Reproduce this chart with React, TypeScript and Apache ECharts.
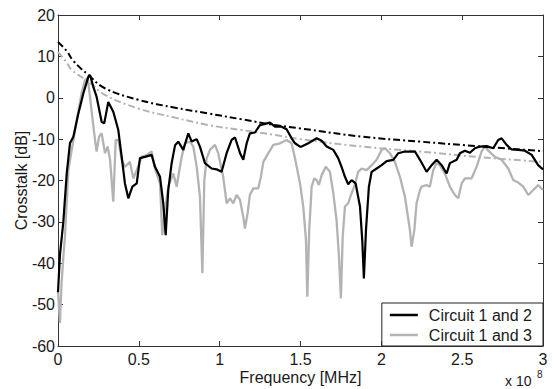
import React, { useEffect, useRef } from "react";
import * as echarts from "echarts";

// Frequency in units of 1e8 Hz (axis shows "x 10^8")
const freq12 = [0.000, 0.012, 0.033, 0.054, 0.074, 0.095, 0.126, 0.157, 0.188, 0.198, 0.218, 0.239, 0.270, 0.286, 0.311, 0.342, 0.373, 0.394, 0.414, 0.435, 0.460, 0.487, 0.507, 0.538, 0.579, 0.600, 0.631, 0.651, 0.666, 0.682, 0.703, 0.724, 0.744, 0.775, 0.806, 0.827, 0.858, 0.878, 0.909, 0.950, 0.981, 1.012, 1.043, 1.074, 1.095, 1.126, 1.146, 1.167, 1.187, 1.218, 1.249, 1.280, 1.311, 1.342, 1.383, 1.414, 1.445, 1.466, 1.497, 1.507, 1.548, 1.600, 1.631, 1.662, 1.703, 1.733, 1.754, 1.775, 1.795, 1.816, 1.841, 1.868, 1.882, 1.892, 1.905, 1.923, 1.940, 1.971, 2.002, 2.033, 2.074, 2.105, 2.146, 2.187, 2.208, 2.239, 2.280, 2.311, 2.342, 2.373, 2.404, 2.424, 2.466, 2.486, 2.517, 2.548, 2.579, 2.610, 2.651, 2.692, 2.723, 2.744, 2.775, 2.806, 2.847, 2.888, 2.930, 2.970, 3.000];
const db12 = [-47, -38, -30, -18.3, -11, -9.4, -3.8, 1.1, 5.1, 5.5, 2.7, 0.2, -5.8, -6.2, -1.0, -3.4, -7.8, -14.3, -20.7, -24.3, -21.5, -20.7, -14.6, -14.3, -13.8, -16.7, -19.1, -25.5, -33.2, -22.3, -15.8, -11.5, -10.6, -12.6, -8.6, -10.6, -10.0, -11.8, -15.8, -17.1, -17.3, -17.9, -13.4, -10.2, -9.6, -13.4, -15.0, -11.0, -8.6, -8.4, -6.6, -6.3, -6.0, -7.0, -7.0, -7.6, -9.8, -11.0, -11.8, -11.8, -11.0, -9.8, -10.4, -11.8, -12.6, -14.6, -16.7, -19.1, -20.9, -19.9, -20.7, -26.3, -34.4, -43.7, -32.0, -21.5, -17.9, -17.1, -16.3, -15.3, -15.0, -13.4, -13.0, -13.0, -13.0, -15.0, -17.9, -16.3, -15.0, -16.3, -18.3, -15.8, -15.0, -13.4, -12.8, -13.3, -12.2, -11.8, -11.7, -12.2, -10.2, -9.8, -11.4, -12.5, -12.6, -12.8, -13.8, -16.3, -17.3];

const freq13 = [0.000, 0.012, 0.022, 0.033, 0.043, 0.064, 0.085, 0.116, 0.146, 0.167, 0.184, 0.198, 0.212, 0.229, 0.239, 0.254, 0.270, 0.291, 0.307, 0.322, 0.342, 0.357, 0.373, 0.394, 0.414, 0.445, 0.466, 0.487, 0.518, 0.549, 0.579, 0.600, 0.631, 0.645, 0.662, 0.682, 0.713, 0.734, 0.744, 0.765, 0.785, 0.816, 0.837, 0.858, 0.878, 0.893, 0.905, 0.920, 0.940, 0.971, 0.991, 1.022, 1.043, 1.064, 1.084, 1.105, 1.126, 1.146, 1.156, 1.173, 1.187, 1.208, 1.239, 1.255, 1.270, 1.301, 1.332, 1.373, 1.414, 1.445, 1.466, 1.497, 1.517, 1.534, 1.542, 1.554, 1.569, 1.585, 1.600, 1.614, 1.631, 1.656, 1.682, 1.703, 1.723, 1.738, 1.750, 1.761, 1.775, 1.795, 1.812, 1.832, 1.857, 1.878, 1.909, 1.940, 1.971, 2.002, 2.022, 2.053, 2.084, 2.115, 2.146, 2.177, 2.187, 2.204, 2.218, 2.239, 2.249, 2.280, 2.300, 2.321, 2.342, 2.362, 2.393, 2.424, 2.455, 2.476, 2.497, 2.517, 2.558, 2.589, 2.620, 2.641, 2.661, 2.703, 2.744, 2.785, 2.816, 2.847, 2.878, 2.909, 2.940, 2.970, 3.000];
const db13 = [-46.5, -54.4, -45, -38.4, -33.6, -17.5, -12.6, -5.4, 1.1, 4.3, 4.7, 0.2, -4.6, -10.2, -13.0, -9.4, -8.6, -13.4, -11.8, -15.0, -25.1, -10.2, -10.2, -15.0, -16.7, -15.5, -19.5, -17.5, -14.3, -13.8, -13.0, -17.1, -20.7, -33.2, -27.1, -21.5, -18.3, -21.5, -19.1, -14.3, -11.0, -10.6, -11.8, -16.7, -23.9, -42.4, -19.9, -14.6, -12.6, -11.4, -13.4, -19.1, -25.5, -24.3, -25.5, -23.5, -24.7, -28.8, -31.6, -27.9, -23.5, -21.9, -21.9, -19.1, -15.5, -13.4, -11.4, -11.0, -10.2, -11.0, -14.6, -20.7, -26.3, -34.4, -48.1, -32.0, -21.5, -19.5, -19.9, -21.1, -18.7, -16.7, -17.9, -23.1, -29.6, -38.4, -48.5, -33.6, -26.3, -25.5, -23.5, -21.5, -17.9, -17.1, -17.5, -16.3, -15.0, -12.6, -12.2, -13.4, -15.5, -19.1, -23.9, -32.0, -36.0, -32.0, -25.5, -22.3, -21.5, -21.1, -21.5, -17.5, -15.8, -16.3, -18.3, -21.5, -23.5, -24.3, -20.7, -19.5, -19.5, -16.7, -13.0, -11.7, -12.8, -14.3, -15.0, -17.1, -19.9, -20.5, -21.5, -23.5, -22.3, -21.1, -22.3];

const envFreq12 = [0, 0.054, 0.095, 0.188, 0.29, 0.497, 0.724, 0.93, 1.136, 1.342, 1.497, 1.878, 2.239, 2.62, 3.0];
const envDb12 = [13.5, 11.3, 8.9, 5.5, 2.3, -0.5, -2.4, -3.8, -5.2, -6.6, -7.4, -9.4, -10.6, -11.8, -12.9];
const envFreq13 = [0, 0.054, 0.085, 0.188, 0.29, 0.497, 0.724, 0.93, 1.136, 1.342, 1.497, 1.878, 2.239, 2.62, 3.0];
const envDb13 = [11.1, 8.5, 6.7, 3.9, 0.7, -2.6, -4.8, -6.6, -7.8, -9.0, -10.0, -11.8, -13.0, -14.4, -15.5];

const xTicks = [0, 0.5, 1, 1.5, 2, 2.5, 3];
const yTicks = [-60, -50, -40, -30, -20, -10, 0, 10, 20];

const seriesNames = ["Circuit 1 and 2", "Circuit 1 and 3"];

const FONT = "'Liberation Sans', Arial, sans-serif";
const TXT = "#1a1a1a";
const GRAY = "#b3b3b3";

const zip = (xs: number[], ys: number[]) => xs.map((x, i) => [x, ys[i]]);

export default function App() {
  const ref = useRef<HTMLDivElement>(null);
  useEffect(() => {
    if (!ref.current) return;
    const chart = echarts.init(ref.current, null, { renderer: "svg" });
    const axisCommon = {
      axisLine: { show: true, onZero: false, lineStyle: { color: "#333", width: 1 } },
      axisTick: { show: true, inside: true, length: 5, lineStyle: { color: "#333" } },
      splitLine: { show: false },
    };
    chart.setOption({
      animation: false,
      backgroundColor: "#fff",
      textStyle: { fontFamily: FONT },
      grid: { left: 58, right: 13, top: 15, bottom: 43, outerBoundsMode: "none" },
      xAxis: [
        {
          type: "value",
          min: xTicks[0],
          max: xTicks[xTicks.length - 1],
          interval: 0.5,
          position: "bottom",
          ...axisCommon,
          axisLabel: { color: TXT, fontSize: 16, fontFamily: FONT, margin: 5 },
          name: "Frequency [MHz]",
          nameLocation: "middle",
          nameGap: 23,
          nameMoveOverlap: false,
          nameTextStyle: { color: TXT, fontSize: 16, fontFamily: FONT },
        },
        {
          type: "value",
          min: xTicks[0],
          max: xTicks[xTicks.length - 1],
          interval: 0.5,
          position: "top",
          ...axisCommon,
          axisLabel: { show: false },
        },
      ],
      yAxis: [
        {
          type: "value",
          min: yTicks[0],
          max: yTicks[yTicks.length - 1],
          interval: 10,
          position: "left",
          ...axisCommon,
          axisLabel: { color: TXT, fontSize: 16, fontFamily: FONT, margin: 3 },
          name: "Crosstalk [dB]",
          nameLocation: "middle",
          nameGap: 29,
          nameMoveOverlap: false,
          nameTextStyle: { color: TXT, fontSize: 16, fontFamily: FONT },
        },
        {
          type: "value",
          min: yTicks[0],
          max: yTicks[yTicks.length - 1],
          interval: 10,
          position: "right",
          ...axisCommon,
          axisLabel: { show: false },
        },
      ],
      legend: {
        data: seriesNames,
        orient: "vertical",
        right: 13,
        bottom: 43,
        icon: "rect",
        itemWidth: 28,
        itemHeight: 2.5,
        itemGap: 4,
        padding: [4, 11, 3, 8],
        borderColor: "#222",
        borderWidth: 1,
        borderRadius: 0,
        backgroundColor: "#fff",
        textStyle: { color: TXT, fontSize: 16, fontFamily: FONT, padding: [0, 0, 0, 6] },
      },
      graphic: [
        {
          type: "text",
          left: 505,
          top: 374,
          style: { text: "x 10", fill: TXT, font: `14px ${FONT}` },
        },
        {
          type: "text",
          left: 537,
          top: 369,
          style: { text: "8", fill: TXT, font: `10px ${FONT}` },
        },
      ],
      series: [
        {
          name: "envelope 1-2",
          type: "line",
          data: zip(envFreq12, envDb12),
          smooth: 0.4,
          symbol: "none",
          lineStyle: { color: "#000", width: 2, type: [7, 3, 2, 3] },
          z: 3,
        },
        {
          name: "envelope 1-3",
          type: "line",
          data: zip(envFreq13, envDb13),
          smooth: 0.4,
          symbol: "none",
          lineStyle: { color: GRAY, width: 2, type: [7, 3, 2, 3] },
          z: 1,
        },
        {
          name: seriesNames[1],
          type: "line",
          data: zip(freq13, db13),
          symbol: "none",
          itemStyle: { color: GRAY },
          lineStyle: { color: GRAY, width: 2.3 },
          z: 2,
        },
        {
          name: seriesNames[0],
          type: "line",
          data: zip(freq12, db12),
          symbol: "none",
          itemStyle: { color: "#000" },
          lineStyle: { color: "#000", width: 2.2 },
          z: 4,
        },
      ],
    });
    return () => chart.dispose();
  }, []);
  return (
    <div
      ref={ref}
      style={{ position: "fixed", left: 0, top: 0, width: 556, height: 389, background: "#fff" }}
    />
  );
}
